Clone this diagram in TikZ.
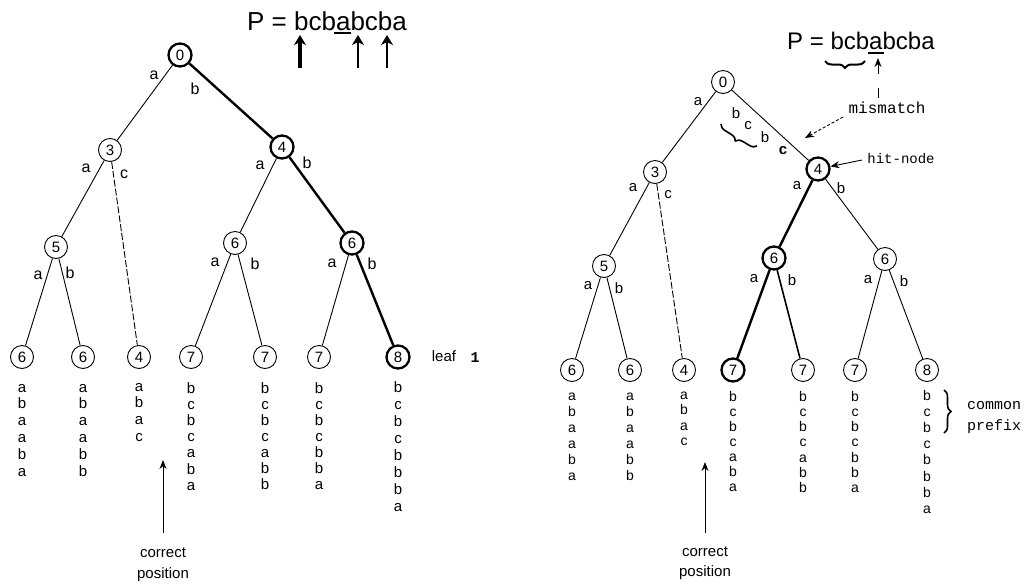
\documentclass[tikz,border=0pt]{standalone}
\usepackage{fontspec}
\setmainfont{Liberation Sans}
\setmonofont{Liberation Mono}
\usetikzlibrary{decorations.pathreplacing,arrows.meta}
\begin{document}
\begin{tikzpicture}[x=1pt,y=-1pt,
  nd/.style={circle,draw,line width=0.9pt,minimum size=23pt,inner sep=0pt,font=\fontsize{15}{15}\selectfont},
  hn/.style={nd,line width=2.3pt},
  tl/.style={line width=0.9pt},
  tk/.style={line width=2.4pt},
  md/.style={line width=1.6pt},
  dsh/.style={line width=0.9pt,dash pattern=on 7pt off 2pt},
  el/.style={font=\fontsize{16}{16}\selectfont,inner sep=0pt},
  elr/.style={font=\fontsize{15}{15}\selectfont,inner sep=0pt},
  lfl/.style={anchor=base,inner sep=0pt,font=\fontsize{15}{15}\selectfont},
  lfr/.style={anchor=base,inner sep=0pt,font=\fontsize{14}{14}\selectfont},
  txt/.style={inner sep=0pt,font=\fontsize{15}{15}\selectfont},
  mono/.style={inner sep=0pt,font=\ttfamily\fontsize{15}{15}\selectfont},
  arr/.style={-{Stealth[length=9pt,width=7pt]}},
  uparr/.style={-{Stealth[length=10pt,width=12pt,inset=3pt]}},
  brc/.style={decorate,decoration={brace,amplitude=7pt},line width=1.6pt}
]
\useasboundingbox[fill=white] (0,0) rectangle (1025,584);

% ---------------- LEFT TREE ----------------
\node[inner sep=0pt,anchor=base west,font=\fontsize{26}{26}\selectfont] (PL) at (247,30) {P = bcbabcba};
\draw[line width=1.8pt] (334,33) -- (351,33);
\coordinate (ua1) at (300,68); \coordinate (ub1) at (300,35);
\coordinate (ua2) at (358,68); \coordinate (ub2) at (358,35);
\coordinate (ua3) at (387,68); \coordinate (ub3) at (387,35);
\draw[uparr,line width=3.3pt] (ua1) -- (ub1);
\draw[uparr,line width=1.8pt] (ua2) -- (ub2);
\draw[uparr,line width=1.8pt] (ua3) -- (ub3);

\node[hn] (L0) at (180,55) {0};
\node[nd] (L3) at (110,150) {3};
\node[hn] (L4) at (282,147) {4};
\node[nd] (L5) at (56,247) {5};
\node[nd] (L6a) at (235,243) {6};
\node[hn] (L6b) at (352,243) {6};
\node[nd] (La) at (22,357) {6};
\node[nd] (Lb) at (83,357) {6};
\node[nd] (Lc) at (139,357) {4};
\node[nd] (Ld) at (191,357) {7};
\node[nd] (Le) at (265,357) {7};
\node[nd] (Lf) at (319,357) {7};
\node[hn] (Lg) at (398,357) {8};

\draw[tl] (L0) -- (L3);
\draw[tk] (L0) -- (L4);
\draw[tl] (L3) -- (L5);
\draw[dsh] (L3) -- (Lc);
\draw[tl] (L4) -- (L6a);
\draw[tk] (L4) -- (L6b);
\draw[tl] (L5) -- (La);
\draw[tl] (L5) -- (Lb);
\draw[tl] (L6a) -- (Ld);
\draw[tl] (L6a) -- (Le);
\draw[tl] (L6b) -- (Lf);
\draw[tk] (L6b) -- (Lg);

\node[el] (le1) at (154,75) {a};
\node[el] (le2) at (195,89) {b};
\node[el] (le3) at (86,168) {a};
\node[el] (le4) at (124,174) {c};
\node[el] (le5) at (260,165) {a};
\node[el] (le6) at (307,163) {b};
\node[el] (le7) at (38,275) {a};
\node[el] (le8) at (70,273) {b};
\node[el] (le9) at (215,262) {a};
\node[el] (le10) at (255,264) {b};
\node[el] (le11) at (332,263) {a};
\node[el] (le12) at (372,264) {b};

\foreach \c [count=\i] in {a,b,a,a,b,a} \node[lfl] (LAc\i) at (22,{392+16.8*(\i-1)}) {\c};
\foreach \c [count=\i] in {a,b,a,a,b,b} \node[lfl] (LBc\i) at (83,{392+16.8*(\i-1)}) {\c};
\foreach \c [count=\i] in {a,b,a,c} \node[lfl] (LCc\i) at (139,{391+16.8*(\i-1)}) {\c};
\foreach \c [count=\i] in {b,c,b,c,a,b,a} \node[lfl] (LDc\i) at (191,{393+16.2*(\i-1)}) {\c};
\foreach \c [count=\i] in {b,c,b,c,a,b,b} \node[lfl] (LEc\i) at (265,{393+16*(\i-1)}) {\c};
\foreach \c [count=\i] in {b,c,b,c,b,b,a} \node[lfl] (LFc\i) at (319,{393+16.1*(\i-1)}) {\c};
\foreach \c [count=\i] in {b,c,b,c,b,b,b,a} \node[lfl] (LGc\i) at (398,{392+17*(\i-1)}) {\c};

\node[txt] (leafL) at (444,356) {leaf};
\node[inner sep=0pt,font=\ttfamily\bfseries\fontsize{15}{15}\selectfont] (leafN) at (475,358) {1};

\coordinate (cpLa) at (163,533);
\coordinate (cpLb) at (163,460);
\draw[arr,line width=1pt] (cpLa) -- (cpLb);
\node[txt] (corL) at (163,553) {correct};
\node[txt] (posL) at (163,575) {position};

% ---------------- RIGHT TREE ----------------
\node[inner sep=0pt,anchor=base west,font=\fontsize{24}{24}\selectfont] (PR) at (787,49) {P = bcbabcba};
\draw[line width=2.4pt] (868,53) -- (884,53);
\draw[brc,line width=2pt] (865,61) -- (825,61);
\coordinate (ma) at (878,74); \coordinate (mb) at (878,58);
\draw[arr,line width=0.9pt] (ma) -- (mb);
\coordinate (mc) at (878,88); \coordinate (md) at (878,98);
\draw[line width=0.9pt] (mc) -- (md);
\node[inner sep=0pt,font=\ttfamily\fontsize{16}{16}\selectfont] (mis) at (887,108) {mismatch};
\coordinate (mda) at (843,117);
\coordinate (mdb) at (805,138);
\draw[arr,line width=0.9pt,dash pattern=on 3pt off 2pt] (mda) -- (mdb);

\node[nd] (R0) at (723,82) {0};
\node[nd] (R3) at (655,172) {3};
\node[hn] (R4) at (818,169) {4};
\node[nd] (R5) at (604,266) {5};
\node[hn] (R6a) at (774,258) {6};
\node[nd] (R6b) at (885,259) {6};
\node[nd] (Ra) at (572,370) {6};
\node[nd] (Rb) at (630,370) {6};
\node[nd] (Rc) at (684,370) {4};
\node[hn] (Rd) at (733,370) {7};
\node[nd] (Re) at (803,370) {7};
\node[nd] (Rf) at (855,370) {7};
\node[nd] (Rg) at (927,370) {8};

\node[inner sep=0pt,font=\ttfamily\fontsize{14}{14}\selectfont] (hit) at (901,159) {hit-node};
\coordinate (ha) at (862,160);
\draw[arr,line width=0.9pt] (ha) -- (R4);

\draw[tl] (R0) -- (R3);
\draw[tl] (R0) -- (R4);
\draw[tl] (R3) -- (R5);
\draw[dsh] (R3) -- (Rc);
\draw[tk] (R4) -- (R6a);
\draw[tl] (R4) -- (R6b);
\draw[tl] (R5) -- (Ra);
\draw[tl] (R5) -- (Rb);
\draw[tk] (R6a) -- (Rd);
\draw[md] (R6a) -- (Re);
\draw[tl] (R6b) -- (Rf);
\draw[tl] (R6b) -- (Rg);

\node[elr] (re1) at (698,102) {a};
\node[elr] (re2) at (736,113) {b};
\node[elr] (re3) at (748,126) {c};
\node[elr] (re4) at (765,137) {b};
\node[elr,font=\bfseries\fontsize{15}{15}\selectfont] (re5) at (783,151) {c};
\draw[brc] (757,146) -- (721,124);
\node[elr] (re6) at (633,188) {a};
\node[elr] (re7) at (668,195) {c};
\node[elr] (re8) at (797,186) {a};
\node[elr] (re9) at (841,188) {b};
\node[elr] (re10) at (588,286) {a};
\node[elr] (re11) at (619,288) {b};
\node[elr] (re12) at (754,279) {a};
\node[elr] (re13) at (792,280) {b};
\node[elr] (re14) at (868,280) {a};
\node[elr] (re15) at (904,281) {b};

\foreach \c [count=\i] in {a,b,a,a,b,a} \node[lfr] (RAc\i) at (572,{400+16*(\i-1)}) {\c};
\foreach \c [count=\i] in {a,b,a,a,b,b} \node[lfr] (RBc\i) at (630,{400+16*(\i-1)}) {\c};
\foreach \c [count=\i] in {a,b,a,c} \node[lfr] (RCc\i) at (684,{399+15.5*(\i-1)}) {\c};
\foreach \c [count=\i] in {b,c,b,c,a,b,a} \node[lfr] (RDc\i) at (733,{401+15.1*(\i-1)}) {\c};
\foreach \c [count=\i] in {b,c,b,c,a,b,b} \node[lfr] (REc\i) at (803,{401+15.3*(\i-1)}) {\c};
\foreach \c [count=\i] in {b,c,b,c,b,b,a} \node[lfr] (RFc\i) at (855,{401+15.3*(\i-1)}) {\c};
\foreach \c [count=\i] in {b,c,b,c,b,b,b,a} \node[lfr] (RGc\i) at (927,{400+16.2*(\i-1)}) {\c};

\draw[brc] (944,390) -- (944,433);
\node[mono] (com) at (994,406) {common};
\node[mono] (pre) at (994,427) {prefix};

\coordinate (cpRa) at (705,533);
\coordinate (cpRb) at (705,462);
\draw[arr,line width=1pt] (cpRa) -- (cpRb);
\node[txt] (corR) at (705,552) {correct};
\node[txt] (posR) at (705,573) {position};
\end{tikzpicture}
\end{document}
